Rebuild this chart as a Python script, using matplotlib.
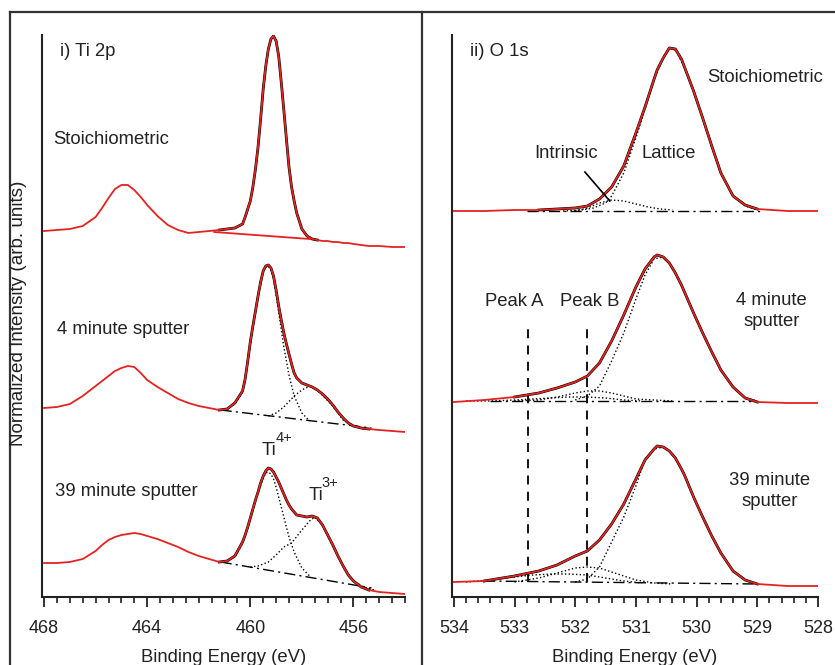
import numpy as np
import matplotlib
matplotlib.use("Agg")
import matplotlib.pyplot as plt
from matplotlib.lines import Line2D
from matplotlib.ticker import MultipleLocator

plt.rcParams['font.family'] = ['Liberation Sans', 'DejaVu Sans']

RED = '#e3231f'
TXT = '#222222'

# ---- Ti 2p panel (stacked, arb. units) ----
ti_energy = [468.0, 467.5, 467.0, 466.5, 466.0, 465.75, 465.5, 465.25, 465.0, 464.75,
             464.5, 464.25, 464.0, 463.6, 463.2, 462.8, 462.4, 462.0, 461.6, 461.2,
             460.9, 460.6,
             460.3, 460.2, 460.1, 460.0, 459.9, 459.8, 459.7, 459.6, 459.5, 459.4,
             459.3, 459.2, 459.1, 459.0, 458.9, 458.8, 458.7, 458.6, 458.5, 458.4,
             458.3, 458.2,
             458.0,
             457.8, 457.6, 457.4, 457.2, 457.0, 456.8, 456.6, 456.4, 456.2, 456.0,
             455.7, 455.4, 455.0, 454.5, 454.0]
ti_stoich = [366, 367, 368, 371, 380, 389, 399, 408, 412, 412,
             407, 400, 392, 381, 372, 367, 364, 365, 366, 367,
             368, 369,
             373, 380, 388, 396, 410, 428, 450, 478, 508, 531,
             548, 558, 561, 556, 541, 515, 487, 458, 430, 410,
             396, 384,
             368,
             361, 358, 357, 356, 356, 355, 355, 354, 354, 353,
             352, 351, 351, 350, 350]
ti_4min = [189, 190, 193, 201, 211, 216, 221, 226, 229, 231,
           230, 224, 217, 210, 204, 198, 194, 191, 189, 187,
           188, 194,
           206, 218, 236, 255, 271, 286, 301, 315, 326, 331,
           332, 329, 321, 307, 291, 277, 264, 253, 243, 233,
           224, 219,
           214,
           212, 210, 207, 203, 198, 192, 185, 179, 174, 171,
           169, 168, 167, 166, 165]
ti_39min = [34, 34, 35, 38, 46, 52, 57, 60, 62, 63,
            64, 63, 61, 58, 54, 50, 45, 41, 38, 35,
            36, 41,
            55, 62, 70, 79, 88, 97, 105, 114, 121, 126,
            129, 128, 125, 120, 115, 109, 103, 97, 92, 88,
            85, 82,
            81,
            80, 81, 79, 72, 62, 52, 41, 31, 22, 16,
            10, 7, 5, 4, 3]

# fitted components
ti4_energy = [461.2, 460.9, 460.6, 460.3, 460.1, 459.9, 459.7, 459.5, 459.4, 459.3,
              459.2, 459.1, 459.0, 458.9, 458.7, 458.5, 458.3, 458.0, 457.7]
ti4_4min = [187, 188, 193, 205, 235, 270, 300, 325, 330, 331,
            327, 318, 302, 285, 250, 222, 201, 184, 176]
ti4_39min = [35, 36, 40, 54, 69, 87, 104, 119, 124, 125,
             123, 118, 110, 100, 80, 60, 45, 29, 21]

ti3_4min_energy = [459.3, 459.0, 458.7, 458.3, 458.0, 457.7, 457.4, 457.1, 456.8, 456.4,
                   456.0, 455.6]
ti3_4min = [181, 184, 190, 201, 207, 211, 207, 199, 191, 177, 171, 168]
ti3_39min_energy = [460.0, 459.7, 459.3, 459.0, 458.7, 458.4, 458.0, 457.7, 457.5, 457.2,
                    456.8, 456.4, 456.0, 455.6, 455.2]
ti3_39min = [30, 31, 35, 42, 50, 54, 67, 76, 80, 72, 51, 31, 16, 10, 7]

ti_bg_stoich = ([461.4, 457.7], [365, 358])
ti_bg_4min = ([461.15, 455.3], [187, 169])
ti_bg_39min = ([461.15, 455.3], [35, 9])

# ---- O 1s panel ----
o_energy = [534.0, 533.5, 533.0, 532.6, 532.3, 532.0, 531.8, 531.6, 531.4, 531.2,
            531.0, 530.85, 530.7, 530.65, 530.55, 530.45, 530.35, 530.25, 530.2, 530.05,
            529.9, 529.75, 529.6, 529.4, 529.2, 529.0, 528.5, 528.0]
o_stoich = [386, 386, 387, 387, 388, 389, 391, 398, 410, 431,
            464, 490, 518, 527, 539, 549, 548, 538, 530, 506,
            479, 451, 424, 401, 392, 388, 386, 386]
o_4min = [195, 197, 200, 204, 209, 215, 221, 234, 256, 282,
          310, 328, 340, 342, 340, 334, 324, 312, 305, 284,
          264, 245, 227, 210, 199, 195, 194, 194]
o_39min = [15, 16, 21, 26, 32, 41, 46, 57, 73, 93,
           118, 137, 148, 151, 150, 146, 139, 128, 122, 100,
           80, 61, 44, 26, 17, 13, 11, 11]

lat_stoich_energy = [532.2, 531.9, 531.7, 531.5, 531.4, 531.2, 531.0, 530.85, 530.7, 530.55,
                     530.45, 530.35, 530.2, 530.05, 529.9, 529.75, 529.6, 529.4, 529.2, 529.0]
lat_stoich = [386, 387, 389, 394, 401, 424, 459, 488, 518, 539,
              549, 547, 530, 506, 479, 451, 424, 401, 391, 387]
intr_energy = [532.0, 531.8, 531.6, 531.4, 531.2, 531.0, 530.8, 530.6, 530.4]
intr_stoich = [386, 389, 394, 397, 396, 393, 390, 388, 387]

lat_energy = [532.0, 531.8, 531.6, 531.4, 531.2, 531.0, 530.85, 530.7, 530.55, 530.45,
              530.35, 530.2, 530.05, 529.9, 529.75, 529.6, 529.4, 529.2, 529.0]
lat_4min = [197, 201, 211, 236, 264, 298, 322, 338, 340, 334,
            324, 305, 284, 264, 245, 227, 210, 199, 196]
lat_39min = [15, 18, 30, 55, 80, 111, 138, 148, 150, 146,
             139, 122, 100, 80, 61, 44, 26, 17, 13]

pkb_energy = [533.0, 532.6, 532.3, 532.0, 531.8, 531.6, 531.4, 531.2, 531.0, 530.7, 530.4]
pkb_4min = [196, 197, 200, 204, 206, 206, 204, 201, 198, 197, 196]
pkb_39min = [15, 19, 24, 29, 30, 29, 25, 21, 17, 14, 13]
pka_energy = [533.8, 533.4, 533.0, 532.7, 532.4, 532.1, 531.8, 531.5, 531.2, 530.9]
pka_4min = [196, 196, 197, 198, 199, 200, 200, 199, 197, 196]
pka_39min = [15, 17, 20, 22, 23, 23, 22, 19, 16, 14]

o_bg_stoich = ([532.8, 528.9], [386, 386])
o_bg_4min = ([533.4, 529.1], [196, 196])
o_bg_39min = ([533.5, 529.0], [16, 13])

peak_a = 532.78
peak_b = 531.81

fig = plt.figure(figsize=(8.35, 6.65), dpi=100)
axL = fig.add_axes([42/835, 1-597/665, (405-42)/835, (597-35)/665])
axR = fig.add_axes([452/835, 1-597/665, (818-452)/835, (597-35)/665])


def style(ax, xlim, major, minor):
    ax.set_xlim(*xlim)
    ax.set_ylim(0, 562)
    for s in ['top', 'right']:
        ax.spines[s].set_visible(False)
    for s in ['left', 'bottom']:
        ax.spines[s].set_linewidth(1.5)
        ax.spines[s].set_color('#222222')
    ax.set_yticks([])
    ax.xaxis.set_major_locator(MultipleLocator(major))
    ax.xaxis.set_minor_locator(MultipleLocator(minor))
    ax.tick_params(axis='x', which='major', direction='out', length=7.5, width=1.3,
                   labelsize=13, pad=9, colors='#222222')
    ax.tick_params(axis='x', which='minor', direction='out', length=4.5, width=1.2,
                   colors='#222222')
    ax.set_xlabel('Binding Energy (eV)', fontsize=13.3, color=TXT, labelpad=9)


def spectrum(ax, e, y, fit_lo, fit_hi):
    e = np.array(e)
    y = np.array(y)
    m = (e <= fit_hi) & (e >= fit_lo)
    ax.plot(e[m], y[m], color='black', lw=2.0, zorder=2)
    ax.plot(e, y, color=RED, lw=1.3, zorder=3)


dashdot = (0, (8, 3, 1.5, 3))

# Ti 2p
style(axL, (468.08, 454.0), 4, 0.5)
spectrum(axL, ti_energy, ti_stoich, 457.4, 461.4)
spectrum(axL, ti_energy, ti_4min, 455.4, 461.2)
spectrum(axL, ti_energy, ti_39min, 455.4, 461.2)
axL.plot(*ti_bg_stoich, color=RED, lw=1.3, zorder=3)
axL.plot(*ti_bg_4min, color='black', lw=1.0, ls=dashdot, zorder=2)
axL.plot(*ti_bg_39min, color='black', lw=1.0, ls=dashdot, zorder=2)
axL.plot(ti4_energy, ti4_4min, color='black', lw=1.0, ls=':', zorder=2)
axL.plot(ti4_energy, ti4_39min, color='black', lw=1.0, ls=':', zorder=2)
axL.plot(ti3_4min_energy, ti3_4min, color='black', lw=1.0, ls=':', zorder=2)
axL.plot(ti3_39min_energy, ti3_39min, color='black', lw=1.0, ls=':', zorder=2)

fs = 13.3
axL.text(467.38, 545, 'i) Ti 2p', fontsize=fs, color=TXT, va='center')
axL.text(467.65, 457, 'Stoichiometric', fontsize=fs, color=TXT, va='center')
axL.text(467.49, 267, '4 minute sputter', fontsize=fs, color=TXT, va='center')
axL.text(467.57, 106, '39 minute sputter', fontsize=fs, color=TXT, va='center')
# Ti4+ / Ti3+ labels with raised charge
axL.text(459.55, 142, 'Ti', fontsize=fs, color=TXT, va='baseline')
axL.text(459.03, 155, '4+', fontsize=10.5, color=TXT, va='baseline')
axL.text(457.75, 97, 'Ti', fontsize=fs, color=TXT, va='baseline')
axL.text(457.23, 110, '3+', fontsize=10.5, color=TXT, va='baseline')

# O 1s
style(axR, (534.03, 528.0), 1, 0.2)
spectrum(axR, o_energy, o_stoich, 529.0, 532.8)
spectrum(axR, o_energy, o_4min, 529.0, 533.4)
spectrum(axR, o_energy, o_39min, 529.0, 533.5)
for bg in (o_bg_stoich, o_bg_4min, o_bg_39min):
    axR.plot(*bg, color='black', lw=1.0, ls=dashdot, zorder=2)
axR.plot(lat_stoich_energy, lat_stoich, color='black', lw=1.0, ls=':', zorder=2)
axR.plot(intr_energy, intr_stoich, color='black', lw=1.0, ls=':', zorder=2)
axR.plot(lat_energy, lat_4min, color='black', lw=1.0, ls=':', zorder=2)
axR.plot(lat_energy, lat_39min, color='black', lw=1.0, ls=':', zorder=2)
axR.plot(pkb_energy, pkb_4min, color='black', lw=1.0, ls=':', zorder=2)
axR.plot(pkb_energy, pkb_39min, color='black', lw=1.0, ls=':', zorder=2)
axR.plot(pka_energy, pka_4min, color='black', lw=1.0, ls=':', zorder=2)
axR.plot(pka_energy, pka_39min, color='black', lw=1.0, ls=':', zorder=2)
axR.vlines([peak_a, peak_b], 15, 275, colors='black', lw=1.3, linestyles=(0, (5, 4)), zorder=1)

axR.text(533.74, 545, 'ii) O 1s', fontsize=fs, color=TXT, va='center')
axR.text(529.83, 520, 'Stoichiometric', fontsize=fs, color=TXT, va='center')
axR.text(532.67, 443, 'Intrinsic', fontsize=fs, color=TXT, va='center')
axR.text(530.90, 443, 'Lattice', fontsize=fs, color=TXT, va='center')
axR.plot([531.84, 531.43], [425, 396], color='black', lw=1.2, zorder=4)
axR.text(533.0, 295, 'Peak A', fontsize=fs, color=TXT, ha='center', va='center')
axR.text(531.76, 295, 'Peak B', fontsize=fs, color=TXT, ha='center', va='center')
axR.text(528.76, 286, '4 minute\nsputter', fontsize=fs, color=TXT, ha='center',
         va='center', linespacing=1.25)
axR.text(528.79, 106, '39 minute\nsputter', fontsize=fs, color=TXT, ha='center',
         va='center', linespacing=1.25)

fig.text(19/835, 1-313/665, 'Normalized Intensity (arb. units)', rotation=90,
         fontsize=13.6, color=TXT, ha='center', va='center')

# panel frame lines
frame = dict(color='#333333', lw=1.6, transform=fig.transFigure)
fig.add_artist(Line2D([10/835, 1.0], [1-12/665, 1-12/665], **frame))
fig.add_artist(Line2D([10/835, 10/835], [0, 1-12/665], **frame))
fig.add_artist(Line2D([422/835, 422/835], [0, 1-12/665], **frame))

fig.savefig('out.png', dpi=100)
